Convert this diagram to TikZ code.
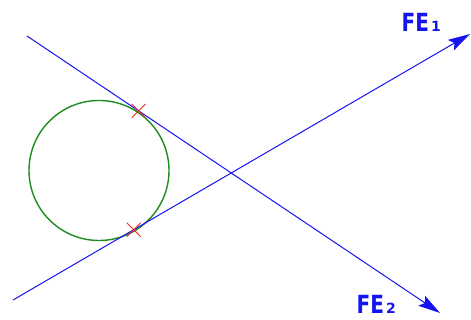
\documentclass[tikz,border=0pt]{standalone}
\usepackage{fontspec}
\setmainfont{Liberation Sans}
\newfontfamily\lblfont{DejaVu Sans}
\usetikzlibrary{arrows.meta,shapes.misc}
\definecolor{lineblue}{RGB}{20,20,240}
\definecolor{circgreen}{RGB}{30,140,30}
\definecolor{crossred}{RGB}{240,40,40}
\tikzset{
  force/.style={draw=lineblue, line width=1pt, -{Stealth[length=22pt,width=12pt,inset=4pt]}},
  circ/.style={circle, draw=circgreen, line width=1.4pt, minimum size=140pt, inner sep=0pt},
  tangmark/.style={cross out, draw=crossred, line width=0.9pt, minimum size=13pt, inner sep=0pt},
  lbl/.style={text=lineblue, inner sep=0pt, anchor=base west, font=\lblfont\fontsize{25}{25}\selectfont\bfseries},
}
\begin{document}
\begin{tikzpicture}[x=1pt,y=-1pt]
\useasboundingbox (0,0) rectangle (471,320);
% circle
\node[circ] (c) at (99,170.5) {};
% line to FE1
\coordinate (S1) at (13,300);
\coordinate (E1) at (470,34);
% line to FE2
\coordinate (S2) at (27,36);
\coordinate (E2) at (440,313);
\draw[force] (S1) -- (E1);
\draw[force] (S2) -- (E2);
% tangent points
\node[tangmark] (t1) at (138.6,110.9) {};
\node[tangmark] (t2) at (133.7,229.7) {};
% labels
\node[lbl] (fe1) at (401.5,31.7) {\scalebox{0.8}[1]{FE}\hspace{2pt}{\fontsize{14}{14}\selectfont 1}};
\node[lbl] (fe2) at (356.5,313) {\scalebox{0.8}[1]{FE}\hspace{2pt}{\fontsize{14}{14}\selectfont 2}};
\end{tikzpicture}
\end{document}
